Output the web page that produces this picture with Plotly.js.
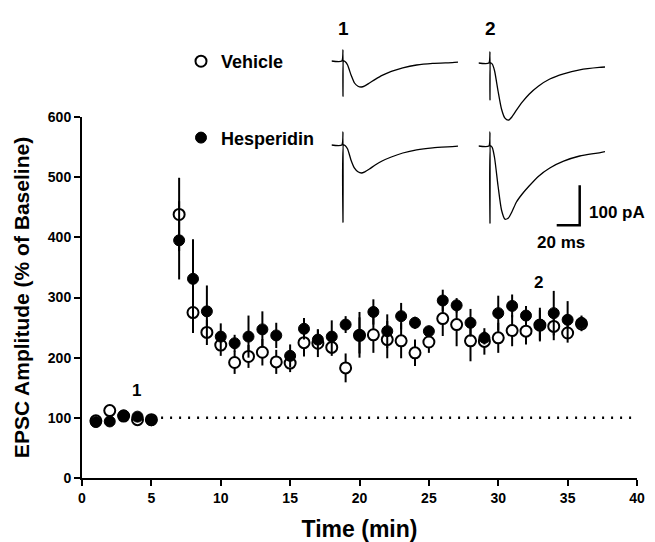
<!DOCTYPE html>
<html>
<head>
<meta charset="utf-8">
<script src="https://cdn.plot.ly/plotly-3.0.1.min.js"></script>
<style>html,body{margin:0;padding:0;background:#fff;}#chart{width:655px;height:542px;}</style>
</head>
<body>
<div id="chart"></div>
<script>
// ---- main time-course data ----
const timeMin = [1,2,3,4,5,7,8,9,10,11,12,13,14,15,16,17,18,19,20,21,22,23,24,25,26,27,28,29,30,31,32,33,34,35,36];
const vehicleMean = [95,112,103,97,97,438,275,242,221,192,202,209,193,191,225,224,217,183,237,238,230,228,208,226,265,255,228,227,233,245,244,254,252,241,256];
const vehicleSem  = [4,5,4,5,4,61,34,21,18,19,19,22,20,15,23,23,14,24,30,30,31,29,22,18,29,36,34,22,25,26,22,25,23,16,12];
const hesperidinMean = [93,94,104,102,96,395,331,277,235,224,235,247,237,203,248,230,235,255,238,276,244,269,258,244,295,287,258,233,274,286,270,255,274,263,258];
const hesperidinSem  = [4,4,5,5,4,65,66,43,22,14,35,30,21,19,18,17,27,14,38,21,28,22,10,9,18,12,23,11,29,19,16,28,37,31,12];
const xTicks = [0,5,10,15,20,25,30,35,40];
const yTicks = [0,100,200,300,400,500,600];
const baselineLevel = 100;
const baselineStart = 5.7;
const baselineEnd = 40;

// ---- representative EPSC traces (ms relative to stimulus, pA) ----
const traceMs = [-10,-1,0,0,0.5,2,4,7,10,13,16,19,23,28,34,42,52,64,78,95,100];
const vehicle1pA    = [0,0,28,-88,0,-2,-10,-35,-55,-63,-65,-62,-55,-46,-36,-26,-17,-10,-6,-4,-3];
const vehicle2pA    = [0,0,28,-92,0,-3,-20,-70,-115,-138,-143,-135,-118,-98,-78,-58,-40,-27,-17,-11,-10];
const hesperidin1pA = [0,0,33,-193,0,-2,-10,-38,-58,-67,-70,-67,-60,-50,-40,-30,-20,-12,-7,-4,-3];
const hesperidin2pA = [0,0,35,-193,0,-4,-30,-100,-160,-183,-180,-165,-140,-120,-100,-76,-55,-38,-25,-17,-14];
const scaleBarMs = 20;
const scaleBarPA = 100;
const scaleBarCorner = [78, -198];

const FONT = 'Arial, "Liberation Sans", Helvetica, sans-serif';
const bold = (size) => ({family: FONT, size: size, color: '#000', weight: 700});

const traces = [
  {
    x: timeMin, y: vehicleMean, name: 'Vehicle', legendgroup: 'v',
    type: 'scatter', mode: 'markers',
    marker: {symbol: 'circle', size: 11, color: '#fff', line: {color: '#000', width: 2}},
    error_y: {type: 'data', array: vehicleSem, visible: true, thickness: 2, width: 0, color: '#000'}
  },
  {
    x: timeMin, y: hesperidinMean, name: 'Hesperidin', legendgroup: 'h',
    type: 'scatter', mode: 'markers',
    marker: {symbol: 'circle', size: 11, color: '#000', line: {color: '#000', width: 1}},
    error_y: {type: 'data', array: hesperidinSem, visible: true, thickness: 2, width: 0, color: '#000'}
  }
];
const insetSets = [
  [vehicle1pA, 'x2', 'y2'],
  [vehicle2pA, 'x3', 'y3'],
  [hesperidin1pA, 'x4', 'y4'],
  [hesperidin2pA, 'x5', 'y5']
];
insetSets.forEach(([ys, xa, ya]) => {
  traces.push({x: traceMs, y: ys, xaxis: xa, yaxis: ya, type: 'scatter', mode: 'lines',
    line: {color: '#000', width: 1.3, shape: 'spline', smoothing: 0.6}, showlegend: false, hoverinfo: 'skip'});
});
traces.push({
  x: [scaleBarCorner[0] - scaleBarMs, scaleBarCorner[0], scaleBarCorner[0]],
  y: [scaleBarCorner[1], scaleBarCorner[1], scaleBarCorner[1] + scaleBarPA],
  xaxis: 'x5', yaxis: 'y5', type: 'scatter', mode: 'lines',
  line: {color: '#000', width: 2.5}, showlegend: false, hoverinfo: 'skip'
});

// paper spans x 82..637 px, y 20..478 px
const W = 655, H = 542, L = 82, R = 18, T = 20, B = 64;
const pw = W - L - R, ph = H - T - B;
const px2x = p => (p - L) / pw;
const py2y = p => (H - B - p) / ph;

const hidden = {visible: false, fixedrange: true};
const insetX = (left, anchor) => Object.assign({domain: [px2x(left), px2x(left + 110 * 1.15)], range: [-10, 100], anchor: anchor}, hidden);
const insetY = (base, anchor) => Object.assign({domain: [py2y(base + 250 * 0.4), py2y(base - 50 * 0.4)], range: [-250, 50], anchor: anchor}, hidden);

const layout = {
  width: W, height: H,
  margin: {l: L, r: R, t: T, b: B, pad: 0},
  paper_bgcolor: '#fff', plot_bgcolor: 'rgba(0,0,0,0)',
  showlegend: true,
  legend: {
    x: px2x(181), y: py2y(43), xanchor: 'left', yanchor: 'top',
    font: bold(18), tracegroupgap: 50, bgcolor: 'rgba(0,0,0,0)', itemwidth: 30
  },
  xaxis: {
    range: [0, 40], tickvals: xTicks, ticktext: xTicks.map(String),
    showline: true, linewidth: 2, linecolor: '#000', ticks: 'outside', ticklen: 6, tickwidth: 2, tickcolor: '#000',
    showgrid: false, zeroline: false, tickfont: bold(14), anchor: 'y',
    title: {text: 'Time (min)', font: bold(23), standoff: 16}
  },
  yaxis: {
    range: [0, 600], domain: [0, py2y(117)], tickvals: yTicks, ticktext: yTicks.map(String),
    showline: true, linewidth: 2, linecolor: '#000', ticks: 'outside', ticklen: 6, tickwidth: 2, tickcolor: '#000',
    showgrid: false, zeroline: false, tickfont: bold(14), anchor: 'x',
    title: {text: 'EPSC Amplitude (% of Baseline)', font: bold(21), standoff: 12}
  },
  xaxis2: insetX(331.5, 'y2'), yaxis2: insetY(61, 'x2'),
  xaxis3: insetX(478.5, 'y3'), yaxis3: insetY(63, 'x3'),
  xaxis4: insetX(331.5, 'y4'), yaxis4: insetY(145, 'x4'),
  xaxis5: insetX(478.5, 'y5'), yaxis5: insetY(146, 'x5'),
  shapes: [{
    type: 'line', xref: 'x', yref: 'y', x0: baselineStart, x1: baselineEnd, y0: baselineLevel, y1: baselineLevel,
    line: {color: '#000', width: 2.5, dash: '2px,7px'}
  }],
  annotations: [
    {xref: 'x', yref: 'y', x: 3.9, y: 146, text: '1', showarrow: false, yanchor: 'middle', font: bold(17)},
    {xref: 'x', yref: 'y', x: 32.9, y: 325, text: '2', showarrow: false, yanchor: 'middle', font: bold(17)},
    {xref: 'x2', yref: 'paper', x: 0, y: py2y(28), text: '1', showarrow: false, yanchor: 'middle', font: bold(19)},
    {xref: 'x3', yref: 'paper', x: 0, y: py2y(28), text: '2', showarrow: false, yanchor: 'middle', font: bold(19)},
    {xref: 'x5', yref: 'y5', x: scaleBarCorner[0] + 6, y: scaleBarCorner[1] + scaleBarPA / 2 - 17, text: scaleBarPA + ' pA', xanchor: 'left', yanchor: 'middle', showarrow: false, font: bold(17)},
    {xref: 'x5', yref: 'y5', x: scaleBarCorner[0] - scaleBarMs + 4, y: scaleBarCorner[1] - 42, text: scaleBarMs + ' ms', yanchor: 'middle', showarrow: false, font: bold(17)}
  ]
};

Plotly.newPlot('chart', traces, layout, {staticPlot: true, displayModeBar: false});
</script>
</body>
</html>
